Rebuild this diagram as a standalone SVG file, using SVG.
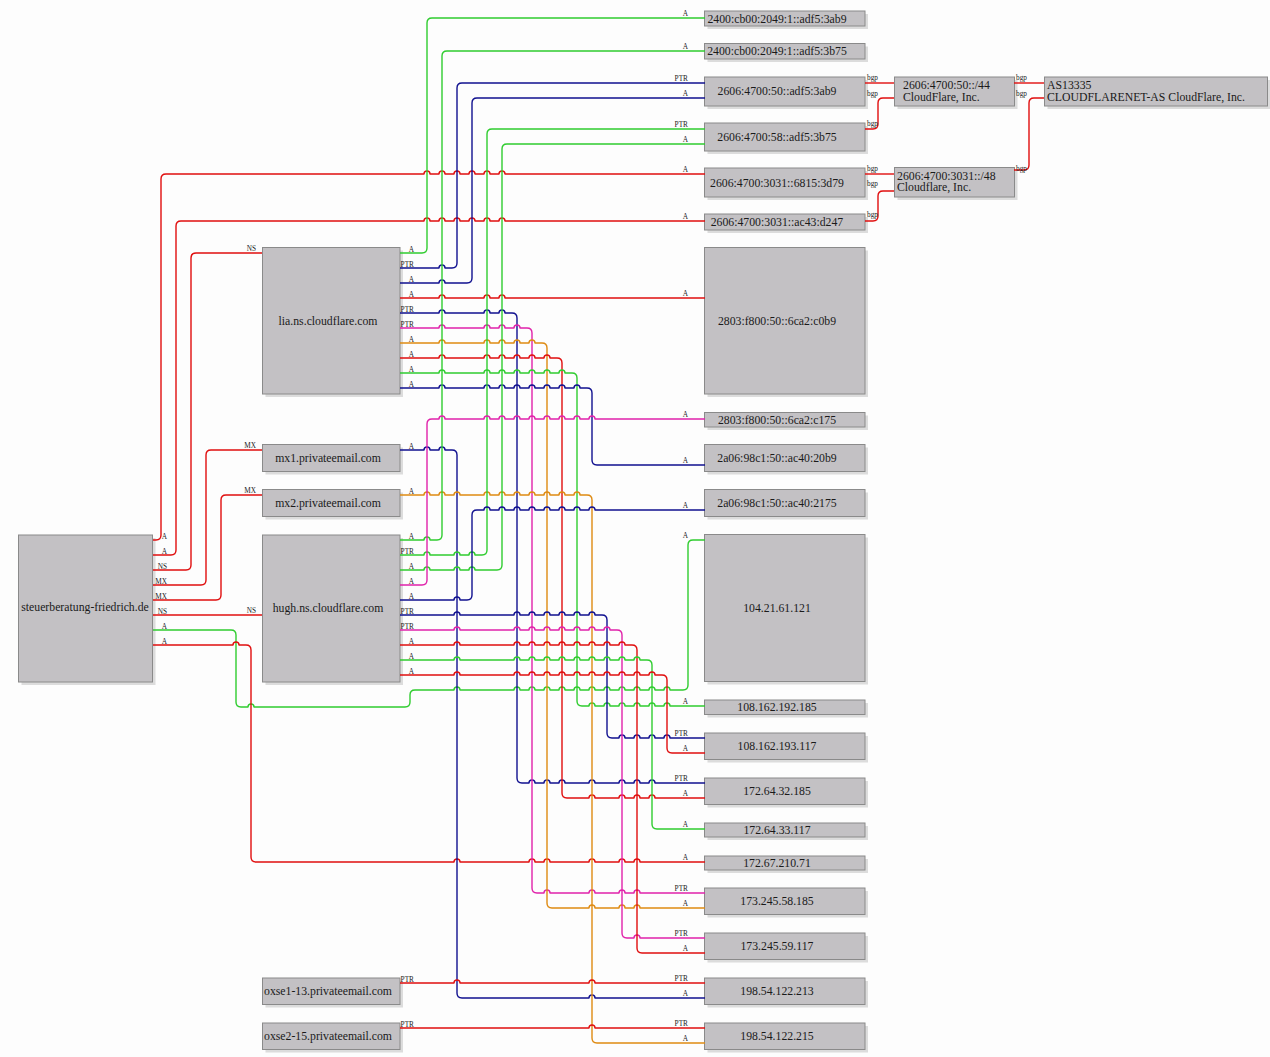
<svg xmlns="http://www.w3.org/2000/svg" width="1270" height="1057" viewBox="0 0 1270 1057">
<style>
.bg{fill:#fdfdfd}
.sh{fill:#dcdcdc}
.bx{fill:#c3c1c4;stroke:#8a8a8a;stroke-width:1}
.t{font-family:"Liberation Serif","Times New Roman",serif;font-size:11.75px;fill:#1a1a1a}
.c{text-anchor:middle}
.l{font-family:"Liberation Serif","Times New Roman",serif;font-size:7.3px;fill:#222}
.r{text-anchor:end}
path{fill:none;stroke-width:1.4;stroke-linejoin:round}
.red{stroke:#e00e0e}
.grn{stroke:#2fcc2f}
.blu{stroke:#10108f}
.mag{stroke:#e022aa}
.org{stroke:#de8a12}
</style>
<rect class="bg" x="0" y="0" width="1270" height="1057"/>
<g id="nodes">
<g id="steuer"><rect class="sh" x="21.5" y="538" width="134" height="147"/><rect class="bx" x="18.5" y="535" width="134" height="147"/><text class="t c" x="85" y="611">steuerberatung-friedrich.de</text></g>
<g id="lia"><rect class="sh" x="265.5" y="250.5" width="137.5" height="146.5"/><rect class="bx" x="262.5" y="247.5" width="137.5" height="146.5"/><text class="t c" x="328" y="325">lia.ns.cloudflare.com</text></g>
<g id="mx1"><rect class="sh" x="265.5" y="447.5" width="137.5" height="27"/><rect class="bx" x="262.5" y="444.5" width="137.5" height="27"/><text class="t c" x="328" y="461.5">mx1.privateemail.com</text></g>
<g id="mx2"><rect class="sh" x="265.5" y="492.5" width="137.5" height="27"/><rect class="bx" x="262.5" y="489.5" width="137.5" height="27"/><text class="t c" x="328" y="506.5">mx2.privateemail.com</text></g>
<g id="hugh"><rect class="sh" x="265.5" y="538" width="137.5" height="147"/><rect class="bx" x="262.5" y="535" width="137.5" height="147"/><text class="t c" x="328" y="612">hugh.ns.cloudflare.com</text></g>
<g id="oxse1"><rect class="sh" x="265.5" y="981" width="137.5" height="26.5"/><rect class="bx" x="262.5" y="978" width="137.5" height="26.5"/><text class="t c" x="328" y="995">oxse1-13.privateemail.com</text></g>
<g id="oxse2"><rect class="sh" x="265.5" y="1026" width="137.5" height="26.5"/><rect class="bx" x="262.5" y="1023" width="137.5" height="26.5"/><text class="t c" x="328" y="1040">oxse2-15.privateemail.com</text></g>

<g id="n1"><rect class="sh" x="707.5" y="14" width="160.5" height="15"/><rect class="bx" x="704.5" y="11" width="160.5" height="15"/><text class="t c" x="777" y="22.5">2400:cb00:2049:1::adf5:3ab9</text></g>
<g id="n2"><rect class="sh" x="707.5" y="46.5" width="160.5" height="15.5"/><rect class="bx" x="704.5" y="43.5" width="160.5" height="15.5"/><text class="t c" x="777" y="55">2400:cb00:2049:1::adf5:3b75</text></g>
<g id="n3"><rect class="sh" x="707.5" y="80" width="160.5" height="29"/><rect class="bx" x="704.5" y="77" width="160.5" height="29"/><text class="t c" x="777" y="95">2606:4700:50::adf5:3ab9</text></g>
<g id="n4"><rect class="sh" x="707.5" y="126" width="160.5" height="28"/><rect class="bx" x="704.5" y="123" width="160.5" height="28"/><text class="t c" x="777" y="141">2606:4700:58::adf5:3b75</text></g>
<g id="n5"><rect class="sh" x="707.5" y="171" width="160.5" height="29"/><rect class="bx" x="704.5" y="168" width="160.5" height="29"/><text class="t c" x="777" y="186.5">2606:4700:3031::6815:3d79</text></g>
<g id="n6"><rect class="sh" x="707.5" y="217" width="160.5" height="16"/><rect class="bx" x="704.5" y="214" width="160.5" height="16"/><text class="t c" x="777" y="226">2606:4700:3031::ac43:d247</text></g>
<g id="n7"><rect class="sh" x="707.5" y="250.5" width="160.5" height="146.5"/><rect class="bx" x="704.5" y="247.5" width="160.5" height="146.5"/><text class="t c" x="777" y="324.5">2803:f800:50::6ca2:c0b9</text></g>
<g id="n8"><rect class="sh" x="707.5" y="415.5" width="160.5" height="14.5"/><rect class="bx" x="704.5" y="412.5" width="160.5" height="14.5"/><text class="t c" x="777" y="423.5">2803:f800:50::6ca2:c175</text></g>
<g id="n9"><rect class="sh" x="707.5" y="447.5" width="160.5" height="27"/><rect class="bx" x="704.5" y="444.5" width="160.5" height="27"/><text class="t c" x="777" y="462">2a06:98c1:50::ac40:20b9</text></g>
<g id="n10"><rect class="sh" x="707.5" y="492.5" width="160.5" height="27"/><rect class="bx" x="704.5" y="489.5" width="160.5" height="27"/><text class="t c" x="777" y="507">2a06:98c1:50::ac40:2175</text></g>
<g id="n11"><rect class="sh" x="707.5" y="537.5" width="160.5" height="147"/><rect class="bx" x="704.5" y="534.5" width="160.5" height="147"/><text class="t c" x="777" y="612">104.21.61.121</text></g>
<g id="n12"><rect class="sh" x="707.5" y="703" width="160.5" height="14.5"/><rect class="bx" x="704.5" y="700" width="160.5" height="14.5"/><text class="t c" x="777" y="711">108.162.192.185</text></g>
<g id="n13"><rect class="sh" x="707.5" y="736" width="160.5" height="26.5"/><rect class="bx" x="704.5" y="733" width="160.5" height="26.5"/><text class="t c" x="777" y="750">108.162.193.117</text></g>
<g id="n14"><rect class="sh" x="707.5" y="781" width="160.5" height="26.5"/><rect class="bx" x="704.5" y="778" width="160.5" height="26.5"/><text class="t c" x="777" y="795">172.64.32.185</text></g>
<g id="n15"><rect class="sh" x="707.5" y="826" width="160.5" height="14"/><rect class="bx" x="704.5" y="823" width="160.5" height="14"/><text class="t c" x="777" y="834">172.64.33.117</text></g>
<g id="n16"><rect class="sh" x="707.5" y="859" width="160.5" height="14"/><rect class="bx" x="704.5" y="856" width="160.5" height="14"/><text class="t c" x="777" y="867">172.67.210.71</text></g>
<g id="n17"><rect class="sh" x="707.5" y="891" width="160.5" height="26.5"/><rect class="bx" x="704.5" y="888" width="160.5" height="26.5"/><text class="t c" x="777" y="905">173.245.58.185</text></g>
<g id="n18"><rect class="sh" x="707.5" y="936" width="160.5" height="26.5"/><rect class="bx" x="704.5" y="933" width="160.5" height="26.5"/><text class="t c" x="777" y="950">173.245.59.117</text></g>
<g id="n19"><rect class="sh" x="707.5" y="981" width="160.5" height="26.5"/><rect class="bx" x="704.5" y="978" width="160.5" height="26.5"/><text class="t c" x="777" y="995">198.54.122.213</text></g>
<g id="n20"><rect class="sh" x="707.5" y="1026" width="160.5" height="26.5"/><rect class="bx" x="704.5" y="1023" width="160.5" height="26.5"/><text class="t c" x="777" y="1040">198.54.122.215</text></g>

<g id="p44"><rect class="sh" x="897.5" y="80" width="120" height="29"/><rect class="bx" x="894.5" y="77" width="120" height="29"/><text class="t" x="903" y="88.5">2606:4700:50::/44</text><text class="t" x="903" y="100.5">CloudFlare, Inc.</text></g>
<g id="p48"><rect class="sh" x="897.5" y="170.5" width="120" height="29.5"/><rect class="bx" x="894.5" y="167.5" width="120" height="29.5"/><text class="t" x="897" y="179.5">2606:4700:3031::/48</text><text class="t" x="897" y="191">Cloudflare, Inc.</text></g>
<g id="as13335"><rect class="sh" x="1047.5" y="80" width="223" height="29"/><rect class="bx" x="1044.5" y="77" width="223" height="29"/><text class="t" x="1047" y="88.5">AS13335</text><text class="t" x="1047" y="100.5">CLOUDFLARENET-AS CloudFlare, Inc.</text></g>
</g>

<g id="connectors">
<path class="red" d="M153,540H156Q161,540 161,535V179Q161,174 166,174H424a3,3 0 0 1 6,0H439a3,3 0 0 1 6,0H454a3,3 0 0 1 6,0H469a3,3 0 0 1 6,0H484a3,3 0 0 1 6,0H499a3,3 0 0 1 6,0H705"/>
<path class="red" d="M153,555H171Q176,555 176,550V226Q176,221 181,221H424a3,3 0 0 1 6,0H439a3,3 0 0 1 6,0H454a3,3 0 0 1 6,0H469a3,3 0 0 1 6,0H484a3,3 0 0 1 6,0H499a3,3 0 0 1 6,0H705"/>
<path class="red" d="M153,570H186Q191,570 191,565V258Q191,253 196,253H262"/>
<path class="red" d="M153,585H201Q206,585 206,580V455Q206,450 211,450H262"/>
<path class="red" d="M153,600H216Q221,600 221,595V500Q221,495 226,495H262"/>
<path class="red" d="M153,615H262"/>
<path class="grn" d="M153,630H231Q236,630 236,635V702Q236,707 241,707H248a3,3 0 0 1 6,0H405Q410,707 410,702V695Q410,690 415,690H454a3,3 0 0 1 6,0H514a3,3 0 0 1 6,0H529a3,3 0 0 1 6,0H544a3,3 0 0 1 6,0H559a3,3 0 0 1 6,0H574a3,3 0 0 1 6,0H589a3,3 0 0 1 6,0H604a3,3 0 0 1 6,0H619a3,3 0 0 1 6,0H634a3,3 0 0 1 6,0H649a3,3 0 0 1 6,0H664a3,3 0 0 1 6,0H683Q688,690 688,685V545Q688,540 693,540H705"/>
<path class="red" d="M153,645H233a3,3 0 0 1 6,0H246Q251,645 251,650V857Q251,862 256,862H454a3,3 0 0 1 6,0H529a3,3 0 0 1 6,0H544a3,3 0 0 1 6,0H589a3,3 0 0 1 6,0H619a3,3 0 0 1 6,0H634a3,3 0 0 1 6,0H705"/>

<path class="grn" d="M400,253H422Q427,253 427,248V23Q427,18 432,18H705"/>
<path class="blu" d="M400,268H439a3,3 0 0 1 6,0H452Q457,268 457,263V88Q457,83 462,83H705"/>
<path class="blu" d="M400,283H439a3,3 0 0 1 6,0H467Q472,283 472,278V103Q472,98 477,98H705"/>
<path class="red" d="M400,298H439a3,3 0 0 1 6,0H484a3,3 0 0 1 6,0H499a3,3 0 0 1 6,0H705"/>
<path class="blu" d="M400,313H439a3,3 0 0 1 6,0H484a3,3 0 0 1 6,0H499a3,3 0 0 1 6,0H512Q517,313 517,318V778Q517,783 522,783H529a3,3 0 0 1 6,0H544a3,3 0 0 1 6,0H559a3,3 0 0 1 6,0H589a3,3 0 0 1 6,0H619a3,3 0 0 1 6,0H634a3,3 0 0 1 6,0H649a3,3 0 0 1 6,0H705"/>
<path class="mag" d="M400,328H439a3,3 0 0 1 6,0H484a3,3 0 0 1 6,0H499a3,3 0 0 1 6,0H514a3,3 0 0 1 6,0H527Q532,328 532,333V888Q532,893 537,893H544a3,3 0 0 1 6,0H589a3,3 0 0 1 6,0H619a3,3 0 0 1 6,0H634a3,3 0 0 1 6,0H705"/>
<path class="org" d="M400,343H439a3,3 0 0 1 6,0H484a3,3 0 0 1 6,0H499a3,3 0 0 1 6,0H514a3,3 0 0 1 6,0H529a3,3 0 0 1 6,0H542Q547,343 547,348V903Q547,908 552,908H589a3,3 0 0 1 6,0H619a3,3 0 0 1 6,0H634a3,3 0 0 1 6,0H705"/>
<path class="red" d="M400,358H439a3,3 0 0 1 6,0H484a3,3 0 0 1 6,0H499a3,3 0 0 1 6,0H514a3,3 0 0 1 6,0H529a3,3 0 0 1 6,0H544a3,3 0 0 1 6,0H557Q562,358 562,363V793Q562,798 567,798H589a3,3 0 0 1 6,0H619a3,3 0 0 1 6,0H634a3,3 0 0 1 6,0H649a3,3 0 0 1 6,0H705"/>
<path class="grn" d="M400,373H439a3,3 0 0 1 6,0H484a3,3 0 0 1 6,0H499a3,3 0 0 1 6,0H514a3,3 0 0 1 6,0H529a3,3 0 0 1 6,0H544a3,3 0 0 1 6,0H559a3,3 0 0 1 6,0H572Q577,373 577,378V701Q577,706 582,706H589a3,3 0 0 1 6,0H604a3,3 0 0 1 6,0H619a3,3 0 0 1 6,0H634a3,3 0 0 1 6,0H649a3,3 0 0 1 6,0H664a3,3 0 0 1 6,0H705"/>
<path class="blu" d="M400,388H439a3,3 0 0 1 6,0H484a3,3 0 0 1 6,0H499a3,3 0 0 1 6,0H514a3,3 0 0 1 6,0H529a3,3 0 0 1 6,0H544a3,3 0 0 1 6,0H559a3,3 0 0 1 6,0H574a3,3 0 0 1 6,0H587Q592,388 592,393V460Q592,465 597,465H705"/>

<path class="blu" d="M400,450H424a3,3 0 0 1 6,0H439a3,3 0 0 1 6,0H452Q457,450 457,455V993Q457,998 462,998H589a3,3 0 0 1 6,0H705"/>
<path class="org" d="M400,495H424a3,3 0 0 1 6,0H439a3,3 0 0 1 6,0H454a3,3 0 0 1 6,0H484a3,3 0 0 1 6,0H499a3,3 0 0 1 6,0H514a3,3 0 0 1 6,0H529a3,3 0 0 1 6,0H544a3,3 0 0 1 6,0H559a3,3 0 0 1 6,0H574a3,3 0 0 1 6,0H587Q592,495 592,500V1038Q592,1043 597,1043H705"/>

<path class="grn" d="M400,540H424a3,3 0 0 1 6,0H437Q442,540 442,535V56Q442,51 447,51H705"/>
<path class="grn" d="M400,555H424a3,3 0 0 1 6,0H454a3,3 0 0 1 6,0H469a3,3 0 0 1 6,0H482Q487,555 487,550V134Q487,129 492,129H705"/>
<path class="grn" d="M400,570H424a3,3 0 0 1 6,0H454a3,3 0 0 1 6,0H469a3,3 0 0 1 6,0H497Q502,570 502,565V149Q502,144 507,144H705"/>
<path class="mag" d="M400,585H422Q427,585 427,580V424Q427,419 432,419H439a3,3 0 0 1 6,0H484a3,3 0 0 1 6,0H499a3,3 0 0 1 6,0H514a3,3 0 0 1 6,0H529a3,3 0 0 1 6,0H544a3,3 0 0 1 6,0H559a3,3 0 0 1 6,0H574a3,3 0 0 1 6,0H589a3,3 0 0 1 6,0H705"/>
<path class="blu" d="M400,600H454a3,3 0 0 1 6,0H467Q472,600 472,595V515Q472,510 477,510H484a3,3 0 0 1 6,0H499a3,3 0 0 1 6,0H514a3,3 0 0 1 6,0H529a3,3 0 0 1 6,0H544a3,3 0 0 1 6,0H559a3,3 0 0 1 6,0H574a3,3 0 0 1 6,0H589a3,3 0 0 1 6,0H705"/>
<path class="blu" d="M400,615H454a3,3 0 0 1 6,0H514a3,3 0 0 1 6,0H529a3,3 0 0 1 6,0H544a3,3 0 0 1 6,0H559a3,3 0 0 1 6,0H574a3,3 0 0 1 6,0H589a3,3 0 0 1 6,0H602Q607,615 607,620V733Q607,738 612,738H619a3,3 0 0 1 6,0H634a3,3 0 0 1 6,0H649a3,3 0 0 1 6,0H664a3,3 0 0 1 6,0H705"/>
<path class="mag" d="M400,630H454a3,3 0 0 1 6,0H514a3,3 0 0 1 6,0H529a3,3 0 0 1 6,0H544a3,3 0 0 1 6,0H559a3,3 0 0 1 6,0H574a3,3 0 0 1 6,0H589a3,3 0 0 1 6,0H604a3,3 0 0 1 6,0H617Q622,630 622,635V933Q622,938 627,938H634a3,3 0 0 1 6,0H705"/>
<path class="red" d="M400,645H454a3,3 0 0 1 6,0H514a3,3 0 0 1 6,0H529a3,3 0 0 1 6,0H544a3,3 0 0 1 6,0H559a3,3 0 0 1 6,0H574a3,3 0 0 1 6,0H589a3,3 0 0 1 6,0H604a3,3 0 0 1 6,0H619a3,3 0 0 1 6,0H632Q637,645 637,650V948Q637,953 642,953H705"/>
<path class="grn" d="M400,660H454a3,3 0 0 1 6,0H514a3,3 0 0 1 6,0H529a3,3 0 0 1 6,0H544a3,3 0 0 1 6,0H559a3,3 0 0 1 6,0H574a3,3 0 0 1 6,0H589a3,3 0 0 1 6,0H604a3,3 0 0 1 6,0H619a3,3 0 0 1 6,0H634a3,3 0 0 1 6,0H647Q652,660 652,665V824Q652,829 657,829H705"/>
<path class="red" d="M400,675H454a3,3 0 0 1 6,0H514a3,3 0 0 1 6,0H529a3,3 0 0 1 6,0H544a3,3 0 0 1 6,0H559a3,3 0 0 1 6,0H574a3,3 0 0 1 6,0H589a3,3 0 0 1 6,0H604a3,3 0 0 1 6,0H619a3,3 0 0 1 6,0H634a3,3 0 0 1 6,0H649a3,3 0 0 1 6,0H662Q667,675 667,680V748Q667,753 672,753H705"/>

<path class="red" d="M400,983H454a3,3 0 0 1 6,0H589a3,3 0 0 1 6,0H705"/>
<path class="red" d="M400,1028H589a3,3 0 0 1 6,0H705"/>

<path class="red" d="M865,83H894"/>
<path class="red" d="M865,129H873Q878,129 878,124V103Q878,98 883,98H894"/>
<path class="red" d="M865,174H894"/>
<path class="red" d="M865,221H873Q878,221 878,216V196Q878,191 883,191H894"/>
<path class="red" d="M1014,83H1044"/>
<path class="red" d="M1014,170H1024Q1029,170 1029,165V103Q1029,98 1034,98H1044"/>

<g id="labels">
<text class="l r" x="167" y="538.5">A</text>
<text class="l r" x="167" y="553.5">A</text>
<text class="l r" x="167" y="568.5">NS</text>
<text class="l r" x="167" y="583.5">MX</text>
<text class="l r" x="167" y="598.5">MX</text>
<text class="l r" x="167" y="613.5">NS</text>
<text class="l r" x="167" y="628.5">A</text>
<text class="l r" x="167" y="643.5">A</text>
<text class="l r" x="256" y="250.5">NS</text>
<text class="l r" x="256" y="447.5">MX</text>
<text class="l r" x="256" y="492.5">MX</text>
<text class="l r" x="256" y="612.5">NS</text>

<text class="l r" x="414" y="251.5">A</text>
<text class="l r" x="414" y="266.5">PTR</text>
<text class="l r" x="414" y="281.5">A</text>
<text class="l r" x="414" y="296.5">A</text>
<text class="l r" x="414" y="311.5">PTR</text>
<text class="l r" x="414" y="326.5">PTR</text>
<text class="l r" x="414" y="341.5">A</text>
<text class="l r" x="414" y="356.5">A</text>
<text class="l r" x="414" y="371.5">A</text>
<text class="l r" x="414" y="386.5">A</text>
<text class="l r" x="414" y="448.5">A</text>
<text class="l r" x="414" y="493.5">A</text>
<text class="l r" x="414" y="538.5">A</text>
<text class="l r" x="414" y="553.5">PTR</text>
<text class="l r" x="414" y="568.5">A</text>
<text class="l r" x="414" y="583.5">A</text>
<text class="l r" x="414" y="598.5">A</text>
<text class="l r" x="414" y="613.5">PTR</text>
<text class="l r" x="414" y="628.5">PTR</text>
<text class="l r" x="414" y="643.5">A</text>
<text class="l r" x="414" y="658.5">A</text>
<text class="l r" x="414" y="673.5">A</text>
<text class="l r" x="414" y="981.5">PTR</text>
<text class="l r" x="414" y="1026.5">PTR</text>

<text class="l r" x="688" y="15.5">A</text>
<text class="l r" x="688" y="48.5">A</text>
<text class="l r" x="688" y="80.5">PTR</text>
<text class="l r" x="688" y="95.5">A</text>
<text class="l r" x="688" y="126.5">PTR</text>
<text class="l r" x="688" y="141.5">A</text>
<text class="l r" x="688" y="171.5">A</text>
<text class="l r" x="688" y="218.5">A</text>
<text class="l r" x="688" y="295.5">A</text>
<text class="l r" x="688" y="416.5">A</text>
<text class="l r" x="688" y="462.5">A</text>
<text class="l r" x="688" y="507.5">A</text>
<text class="l r" x="688" y="537.5">A</text>
<text class="l r" x="688" y="703.5">A</text>
<text class="l r" x="688" y="735.5">PTR</text>
<text class="l r" x="688" y="750.5">A</text>
<text class="l r" x="688" y="780.5">PTR</text>
<text class="l r" x="688" y="795.5">A</text>
<text class="l r" x="688" y="826.5">A</text>
<text class="l r" x="688" y="859.5">A</text>
<text class="l r" x="688" y="890.5">PTR</text>
<text class="l r" x="688" y="905.5">A</text>
<text class="l r" x="688" y="935.5">PTR</text>
<text class="l r" x="688" y="950.5">A</text>
<text class="l r" x="688" y="980.5">PTR</text>
<text class="l r" x="688" y="995.5">A</text>
<text class="l r" x="688" y="1025.5">PTR</text>
<text class="l r" x="688" y="1040.5">A</text>

<text class="l" x="867" y="80">bgp</text>
<text class="l" x="867" y="95.5">bgp</text>
<text class="l" x="867" y="125.5">bgp</text>
<text class="l" x="867" y="170.5">bgp</text>
<text class="l" x="867" y="186">bgp</text>
<text class="l" x="867" y="217">bgp</text>
<text class="l" x="1016" y="80">bgp</text>
<text class="l" x="1016" y="96">bgp</text>
<text class="l" x="1016" y="171">bgp</text>
</g>
</g>
</svg>
